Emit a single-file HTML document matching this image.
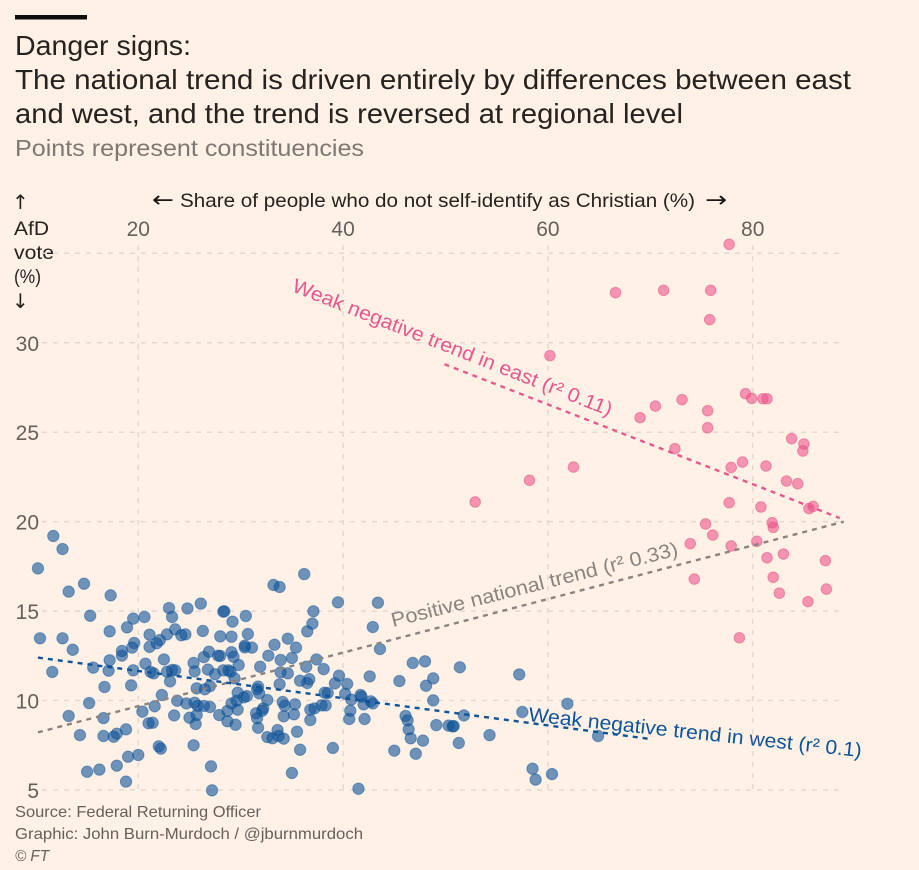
<!DOCTYPE html>
<html lang="en">
<head>
<meta charset="utf-8">
<title>Danger signs</title>
<style>
html,body{margin:0;padding:0;background:#fff1e6;}
svg{display:block;font-family:"Liberation Sans",sans-serif;filter:blur(0.35px);}
.arrow{font-family:"DejaVu Sans",sans-serif;}
</style>
</head>
<body>
<svg id="chart" xmlns="http://www.w3.org/2000/svg" width="919" height="870" viewBox="0 0 919 870">
  <rect width="919" height="870" fill="#fff1e6"/>
  <rect x="15" y="15" width="72" height="4.5" fill="#0d0d0d"/>
  <text x="15" y="55" font-size="28" fill="#262220" textLength="176" lengthAdjust="spacingAndGlyphs">Danger signs:</text>
  <text x="15" y="89" font-size="28" fill="#262220" textLength="836" lengthAdjust="spacingAndGlyphs">The national trend is driven entirely by differences between east</text>
  <text x="15" y="123" font-size="28" fill="#262220" textLength="668" lengthAdjust="spacingAndGlyphs">and west, and the trend is reversed at regional level</text>
  <text x="15" y="156" font-size="23" fill="#7d7873" textLength="349" lengthAdjust="spacingAndGlyphs">Points represent constituencies</text>
  <text class="arrow" x="152" y="207" font-size="22" fill="#1a1716" textLength="22" lengthAdjust="spacingAndGlyphs">←</text>
  <text x="180" y="207" font-size="19.5" fill="#262220" textLength="515" lengthAdjust="spacingAndGlyphs">Share of people who do not self-identify as Christian (%)</text>
  <text class="arrow" x="705" y="207" font-size="22" fill="#1a1716" textLength="22" lengthAdjust="spacingAndGlyphs">→</text>
  <g font-size="19.5" fill="#262220">
    <text class="arrow" x="12" y="209" font-size="20">↑</text>
    <text x="14" y="235" textLength="35" lengthAdjust="spacingAndGlyphs">AfD</text>
    <text x="14" y="259" textLength="40" lengthAdjust="spacingAndGlyphs">vote</text>
    <text x="14" y="283" textLength="27" lengthAdjust="spacingAndGlyphs">(%)</text>
    <text class="arrow" x="12" y="308" font-size="20">↓</text>
  </g>
  <g id="grid"></g>
  <g id="ticks"></g>
  <g id="west-points"></g>
  <g id="east-points"></g>
  <g id="trends"></g>
  <text transform="translate(291 291) rotate(21.5)" font-size="20" fill="#e8588c" textLength="342" lengthAdjust="spacingAndGlyphs">Weak negative trend in east (r² 0.11)</text>
  <text transform="translate(393 627) rotate(-14.1)" font-size="20" fill="#8a8480" textLength="295" lengthAdjust="spacingAndGlyphs">Positive national trend (r² 0.33)</text>
  <text transform="translate(528 721) rotate(6.2)" font-size="20" fill="#0f5499" textLength="335" lengthAdjust="spacingAndGlyphs">Weak negative trend in west (r² 0.1)</text>
  <text x="15" y="817" font-size="16" fill="#66605c" textLength="246" lengthAdjust="spacingAndGlyphs">Source: Federal Returning Officer</text>
  <text x="15" y="839" font-size="16" fill="#66605c" textLength="348" lengthAdjust="spacingAndGlyphs">Graphic: John Burn-Murdoch / @jburnmurdoch</text>
  <text x="15" y="861" font-size="16" font-style="italic" fill="#66605c" textLength="34" lengthAdjust="spacingAndGlyphs">© FT</text>
</svg>
<script>
const xTicks = [20, 40, 60, 80];
const yTicks = [5, 10, 15, 20, 25, 30, 35];
const yTickLabels = ["5", "10", "15", "20", "25", "30", ""];

const westShare = [
  10.2,13.2,14.7,17.3,15.3,10.4,12.6,13.6,11.6,17.2,
  18.9,19.5,20.6,23.0,23.3,24.8,26.1,28.3,28.4,30.5,
  29.2,21.1,22.1,22.8,23.6,24.2,24.6,26.3,28.0,29.1,
  30.7,30.4,30.4,31.1,21.1,21.8,19.6,19.4,18.4,18.4,
  17.2,15.6,17.1,19.5,20.7,21.2,21.5,22.5,22.8,23.3,
  23.6,23.1,25.4,25.5,26.4,26.9,26.8,27.5,27.8,28.0,
  28.3,28.8,29.1,29.3,29.8,29.0,29.4,16.7,19.3,25.7,
  26.5,27.0,22.3,23.8,24.7,25.5,25.8,26.4,27.0,15.2,
  13.2,16.6,20.4,21.6,21.0,21.4,23.5,25.0,25.7,25.6,
  14.3,16.6,17.6,17.9,18.8,22.0,22.2,25.4,19.0,20.0,
  17.9,16.2,15.0,18.8,27.1,27.2,27.9,28.7,28.7,29.5,
  29.7,29.1,29.6,29.7,30.3,30.6,31.6,31.7,31.8,32.6,
  31.9,32.7,33.3,34.6,35.4,33.9,35.0,33.9,34.6,33.8,
  35.8,36.7,36.5,36.4,37.4,38.1,36.5,37.0,37.1,33.2,
  33.8,36.2,39.5,43.4,42.9,43.6,42.6,39.6,39.2,40.4,
  38.2,38.5,40.2,40.8,41.7,41.8,42.0,42.7,42.9,40.7,
  40.6,42.1,34.1,34.3,35.3,35.2,34.2,32.1,32.2,31.5,
  31.6,31.7,32.6,33.1,33.6,33.7,34.2,35.5,35.8,39.0,
  35.0,41.5,36.8,37.2,37.9,38.3,36.8,45.5,46.8,48.0,
  48.8,48.1,48.8,46.1,46.3,46.4,46.6,47.8,45.0,47.1,
  49.1,50.3,50.7,51.4,51.3,57.2,51.8,50.8,54.3,57.5,
  61.9,64.9,58.5,58.8,60.4,11.7,12.6
];
const westVote = [
  17.39,16.09,16.53,15.88,14.74,13.48,13.48,12.84,11.6,13.87,
  14.09,14.58,14.67,15.17,14.67,15.15,15.42,14.97,14.99,14.73,
  14.41,13.68,13.38,13.7,13.98,13.65,13.7,13.89,13.59,13.57,
  13.72,13.07,12.97,12.96,13.0,13.2,13.22,12.96,12.77,12.51,
  12.25,11.84,11.67,11.69,12.06,11.6,11.52,12.3,11.61,11.71,
  11.69,11.07,12.1,11.63,12.43,12.73,11.73,11.47,12.51,12.49,
  11.69,11.69,12.7,12.45,11.99,11.61,11.24,10.76,10.85,10.68,
  10.63,10.81,10.31,9.99,9.84,9.88,9.7,9.7,9.64,9.86,
  9.14,9.02,9.38,9.68,8.73,8.76,9.17,9.04,9.19,8.69,
  8.07,8.02,7.98,8.15,8.39,7.44,7.31,7.5,6.86,6.96,
  6.36,6.14,6.02,5.47,6.32,4.98,9.19,9.42,8.84,8.65,
  9.49,9.84,9.99,10.44,10.18,10.25,10.63,10.78,10.4,10.03,
  11.89,12.51,13.12,13.46,12.96,12.27,12.38,11.58,11.52,10.91,
  11.11,11.19,10.98,11.89,12.3,11.76,13.87,14.3,14.99,16.46,
  16.35,17.07,15.49,15.47,14.11,12.88,11.35,11.39,10.96,10.93,
  10.44,10.42,10.38,10.05,10.31,10.22,9.79,9.96,9.84,9.43,
  8.97,8.97,9.92,9.71,9.79,9.23,9.12,9.43,9.56,9.29,
  9.01,8.48,7.96,7.89,8.35,8.02,7.87,8.26,7.25,7.35,
  5.95,5.07,9.49,9.56,9.73,9.73,8.91,11.09,12.1,12.19,
  11.24,10.83,10.01,9.14,8.89,8.39,7.89,7.76,7.2,7.03,
  8.63,8.6,8.56,11.86,7.63,11.46,9.17,8.57,8.07,9.36,
  9.82,8.02,6.19,5.58,5.89,19.2,18.47
];
const eastShare = [
  77.7,66.6,71.3,75.9,75.8,60.2,69.0,70.5,73.1,75.6,
  75.6,79.3,79.9,81.0,81.4,83.8,85.0,84.9,72.4,77.9,
  79.0,81.3,62.5,58.2,83.3,84.4,52.9,77.7,80.8,85.5,
  85.9,73.9,76.1,75.4,77.9,80.4,81.4,83.0,82.0,82.6,
  74.3,87.1,87.2,85.4,78.7,82.0,81.9
];
const eastVote = [
  35.5,32.8,32.93,32.93,31.29,29.28,25.81,26.46,26.82,26.2,
  25.25,27.15,26.89,26.87,26.87,24.64,24.34,23.95,24.08,23.03,
  23.33,23.11,23.05,22.31,22.27,22.12,21.1,21.06,20.82,20.73,
  20.85,18.77,19.25,19.87,18.64,18.9,17.98,18.19,16.89,16.0,
  16.79,17.82,16.23,15.53,13.51,19.68,19.94
];
const trendNationalShare = [10.2, 88.9];
const trendNationalVote = [8.22, 20.0];
const trendEastShare = [49.9, 88.5];
const trendEastVote = [28.8, 20.2];
const trendWestShare = [10.2, 70.0];
const trendWestVote = [12.4, 7.85];

const SVG_NS = "http://www.w3.org/2000/svg";
function xScale(v) { return 138.3 + (v - 20) * 10.24; }
function yScale(v) { return 790 - (v - 5) * 17.89; }
function make(tag, parentId, attrs) {
  const el = document.createElementNS(SVG_NS, tag);
  for (const k in attrs) el.setAttribute(k, attrs[k]);
  document.getElementById(parentId).appendChild(el);
  return el;
}

yTicks.forEach(function (t, i) {
  const h = make("line", "grid", { x1: 42, x2: 845, y1: yScale(t), y2: yScale(t), stroke: "#e2d9d1", "stroke-width": 1.5, "stroke-dasharray": "5 6" });
  
  
  if (yTickLabels[i]) {
    const lab = make("text", "ticks", { x: 39, y: yScale(t) + 8, "text-anchor": "end", "font-size": 21, fill: "#66605c" });
    lab.textContent = yTickLabels[i];
    
    
  }
});
xTicks.forEach(function (t) {
  const v = make("line", "grid", { x1: xScale(t), x2: xScale(t), y1: 245, y2: 793, stroke: "#e2d9d1", "stroke-width": 1.5, "stroke-dasharray": "5 6" });
  
  
  const lab = make("text", "ticks", { x: xScale(t), y: 236, "text-anchor": "middle", "font-size": 21, fill: "#66605c" });
  lab.textContent = String(t);
  
  
});

westShare.forEach(function (v, i) {
  const c = make("circle", "west-points", { cx: xScale(v), cy: yScale(westVote[i]), r: 5.7, fill: "#0f5499", "fill-opacity": 0.6, stroke: "#0f5499", "stroke-opacity": 0.45, "stroke-width": 1 });
  
  
});
eastShare.forEach(function (v, i) {
  const c = make("circle", "east-points", { cx: xScale(v), cy: yScale(eastVote[i]), r: 5.3, fill: "#f0508a", "fill-opacity": 0.58, stroke: "#e0507f", "stroke-opacity": 0.5, "stroke-width": 1 });
  
  
});

const national = make("line", "trends", { x1: xScale(trendNationalShare[0]), y1: yScale(trendNationalVote[0]), x2: xScale(trendNationalShare[1]), y2: yScale(trendNationalVote[1]), stroke: "#8a8480", "stroke-width": 2.4, "stroke-dasharray": "5 5" });


const eastLine = make("line", "trends", { x1: xScale(trendEastShare[0]), y1: yScale(trendEastVote[0]), x2: xScale(trendEastShare[1]), y2: yScale(trendEastVote[1]), stroke: "#e8588c", "stroke-width": 2.4, "stroke-dasharray": "5 5" });


const westLine = make("line", "trends", { x1: xScale(trendWestShare[0]), y1: yScale(trendWestVote[0]), x2: xScale(trendWestShare[1]), y2: yScale(trendWestVote[1]), stroke: "#0f5499", "stroke-width": 2.4, "stroke-dasharray": "5 5" });


</script>
</body>
</html>
